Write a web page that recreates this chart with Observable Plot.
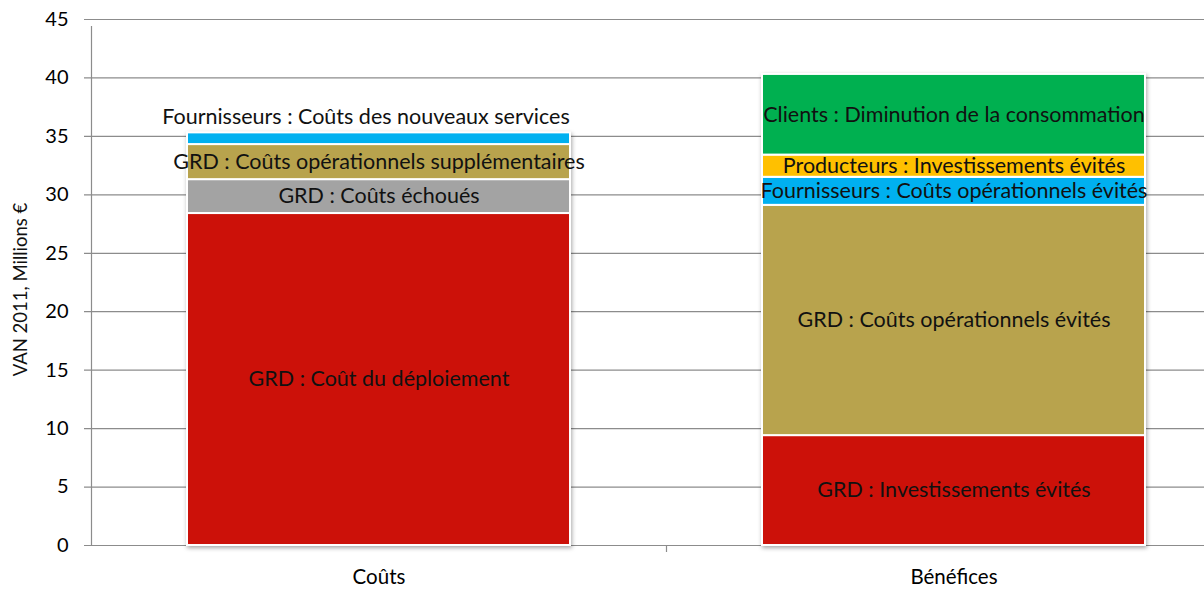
<!DOCTYPE html>
<html>
<head>
<meta charset="utf-8">
<script src="https://cdn.jsdelivr.net/npm/d3@7"></script>
<script src="https://cdn.jsdelivr.net/npm/@observablehq/plot@0.6"></script>
<style>
  html, body { margin: 0; padding: 0; background: #fff; overflow: hidden; }
  #chart { width: 1204px; height: 593px; overflow: hidden; }
  g[aria-label="bar"] { filter: drop-shadow(1px 2px 2px rgba(0,0,0,0.35)); }
</style>
</head>
<body>
<div id="chart"></div>
<script>
const categories = ["Coûts", "Bénéfices"];

const costLabels = [
  "GRD : Coût du déploiement",
  "GRD : Coûts échoués",
  "GRD : Coûts opérationnels supplémentaires",
  "Fournisseurs : Coûts des nouveaux services"
];
const costValues = [28.4, 2.9, 3.0, 1.0];
const costColors = ["#cc1109", "#a3a3a3", "#b8a34d", "#00b0f0"];

const benefitLabels = [
  "GRD : Investissements évités",
  "GRD : Coûts opérationnels évités",
  "Fournisseurs : Coûts opérationnels évités",
  "Producteurs : Investissements évités",
  "Clients : Diminution de la consommation"
];
const benefitValues = [9.4, 19.7, 2.4, 1.9, 6.9];
const benefitColors = ["#cc1109", "#b8a34d", "#00b0f0", "#ffc000", "#00b050"];

const yTicks = [0, 5, 10, 15, 20, 25, 30, 35, 40, 45];
const yTitle = "VAN 2011, Millions €";

const rows = [
  ...costLabels.map((label, i) => ({cat: categories[0], label, value: costValues[i], color: costColors[i]})),
  ...benefitLabels.map((label, i) => ({cat: categories[1], label, value: benefitValues[i], color: benefitColors[i]}))
];

const W = 1204, H = 593;
const x0 = 91, bw = 575;
const font = "Lato, 'Open Sans', sans-serif";

const chart = Plot.plot({
  width: W,
  height: H,
  marginLeft: 84,
  marginRight: 0,
  marginTop: 19,
  marginBottom: 48,
  style: {fontFamily: font, background: "#fff", color: "#000"},
  x: {type: "band", domain: categories, range: [x0, x0 + 2 * bw], padding: 0},
  y: {domain: [0, 45], ticks: yTicks},
  marks: [
    Plot.ruleY(yTicks, {stroke: "#8c8c8c", strokeWidth: 1.2}),
    Plot.ruleX([categories[0]], {x: d => d, y1: 0, y2: 45, dx: -bw / 2, stroke: "#8c8c8c", strokeWidth: 1.2, insetBottom: -7}),
    Plot.ruleX([categories[1]], {x: d => d, y1: 0, y2: 0, dx: -bw / 2, stroke: "#8c8c8c", strokeWidth: 1.2, insetBottom: -7}),
    Plot.barY(rows, Plot.stackY({
      x: "cat", y: "value", order: null,
      fill: d => d.color,
      stroke: "#fff", strokeWidth: 2,
      insetLeft: 96, insetRight: 96
    })),
    Plot.text(rows, Plot.stackY({
      x: "cat", y: "value", order: null,
      text: d => d.value >= 1.5 ? d.label : "",
      fill: "#111", fontSize: 21.5
    })),
    Plot.text(rows, Plot.stackY({
      x: "cat", y: "value", order: null,
      text: d => d.value < 1.5 ? d.label : "",
      fill: "#111", fontSize: 21.5, dy: -22, dx: -13
    })),
    Plot.axisY({ticks: yTicks, tickSize: 0, tickPadding: 16, fontSize: 20, label: null, anchor: "left"}),
    Plot.axisX({tickSize: 0, tickPadding: 24, fontSize: 20.5, label: null}),
    Plot.text([yTitle], {frameAnchor: "left", textAnchor: "middle", dx: -63, dy: 7, rotate: -90, fontSize: 18.5, fill: "#111"})
  ]
});
document.getElementById("chart").appendChild(chart);
</script>
</body>
</html>
